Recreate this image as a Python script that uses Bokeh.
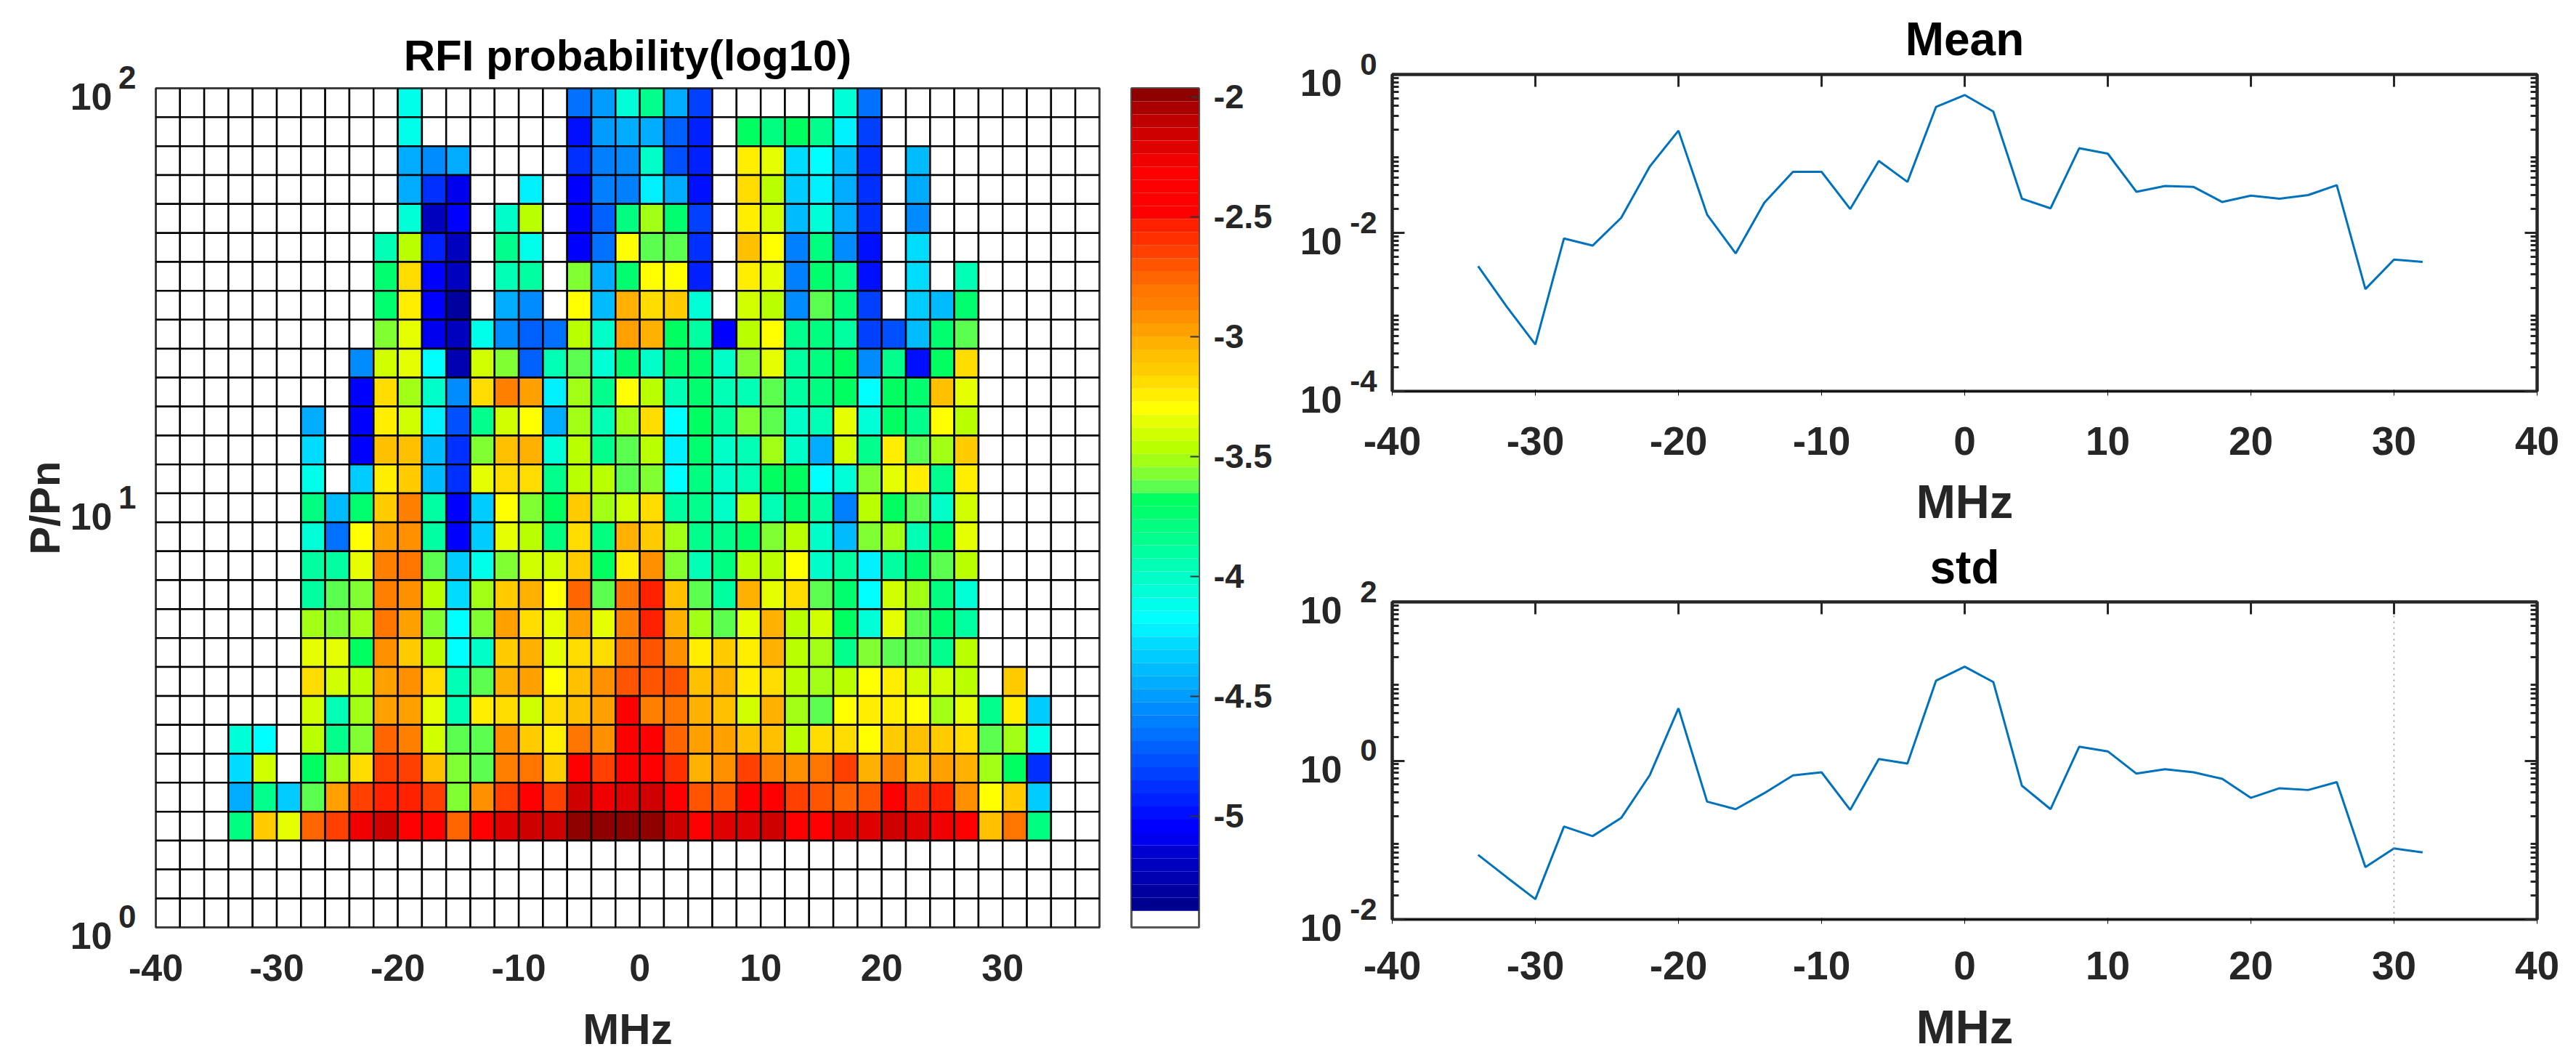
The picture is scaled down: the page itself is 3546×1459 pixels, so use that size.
import numpy as np
from bokeh.embed import file_html
from bokeh.layouts import column, row
from bokeh.models import (ColumnDataSource, CustomJSTickFormatter, FixedTicker,
                          LinearAxis, LinearColorMapper, LogAxis)
from bokeh.plotting import figure
from bokeh.resources import INLINE

_ = None

# log10 probability per cell, top row first, columns from -34 MHz to 34 MHz
z_rows = [
    [_,_,_,_,_,_,_,-4.13,_,_,_,_,_,_,-4.66,-4.50,-4.05, -3.87,-4.44,-4.82,_,_,_,_,_,-4.06,-4.66,_,_,_,_,_,_,_],
    [_,_,_,_,_,_,_,-4.13,_,_,_,_,_,_,-4.99,-4.50,-4.44, -4.44,-4.71,-4.93,_,-3.70,-3.77,-3.68,-3.84,-4.22,-4.82,_,_,_,_,_,_,_],
    [_,_,_,_,_,_,_,-4.47,-4.57,-4.42,_,_,_,_,-4.88,-4.61,-4.53, -4.00,-4.77,-4.95,_,-3.24,-3.35,-4.28,-4.17,-4.39,-4.88,_,-4.39,_,_,_,_,_],
    [_,_,_,_,_,_,_,-4.42,-4.88,-5.07,_,_,-4.25,_,-5.05,-4.61,-4.63, -4.22,-4.44,-4.99,_,-3.19,-3.46,-4.33,-4.22,-4.44,-4.88,_,-4.44,_,_,_,_,_],
    [_,_,_,_,_,_,_,-4.08,-5.18,-5.05,_,-4.00,-3.46,_,-5.05,-4.71,-3.79, -3.51,-3.73,-4.82,_,-3.24,-3.40,-4.39,-4.06,-4.44,-4.88,_,-4.55,_,_,_,_,_],
    [_,_,_,_,_,_,-3.95,-3.46,-4.95,-5.18,_,-3.84,-4.13,_,-5.04,-4.66,-3.30, -3.62,-3.62,-4.88,_,-3.08,-3.30,-4.61,-3.79,-4.55,-4.99,_,-4.28,_,_,_,_,_],
    [_,_,_,_,_,_,-3.73,-3.19,-5.05,-5.20,_,-3.95,-3.92,_,-3.57,-4.44,-3.73, -3.30,-3.30,-4.93,_,-3.24,-3.35,-4.61,-3.73,-3.87,-4.99,_,-4.28,_,-3.95,_,_,_],
    [_,_,_,_,_,_,-3.73,-3.24,-5.04,-5.30,_,-4.44,-4.55,_,-3.30,-4.39,-3.03, -3.19,-3.13,-4.08,_,-3.40,-3.46,-4.55,-3.62,-3.79,-4.82,_,-4.33,-4.39,-3.73,_,_,_],
    [_,_,_,_,_,_,-3.57,-3.35,-5.07,-5.18,-4.11,-4.55,-4.71,-4.66,-3.46,-4.00,-2.97, -3.03,-3.68,-3.88,-5.04,-3.46,-3.30,-3.87,-3.79,-3.90,-4.82,-4.77,-4.39,-3.73,-3.62,_,_,_],
    [_,_,_,_,_,-4.55,-3.40,-3.35,-4.17,-5.28,-3.40,-3.57,-4.71,-3.97,-3.62,-4.06,-3.73, -4.03,-3.76,-3.73,-4.00,-3.57,-3.35,-3.90,-3.79,-3.68,-4.53,-3.87,-4.99,-3.68,-3.21,_,_,_],
    [_,_,_,_,_,-5.04,-3.17,-3.51,-4.00,-4.55,-3.19,-2.87,-2.95,-4.22,-3.51,-3.84,-3.30, -3.46,-3.95,-3.76,-3.94,-3.95,-3.62,-3.92,-3.79,-3.68,-4.17,-3.68,-3.73,-3.08,-3.35,_,_,_],
    [_,_,_,-4.42,_,-5.04,-3.24,-3.40,-4.22,-4.77,-3.85,-3.40,-3.30,-4.44,-3.51,-3.95,-3.49, -3.21,-4.17,-3.68,-3.88,-3.57,-3.62,-4.03,-3.95,-3.35,-4.06,-3.68,-3.84,-3.30,-3.46,_,_,_],
    [_,_,_,-4.26,_,-5.04,-3.08,-3.08,-4.39,-4.88,-3.57,-3.08,-3.03,-4.06,-3.46,-3.87,-3.62, -3.46,-4.22,-3.73,-4.03,-3.95,-3.51,-4.00,-4.44,-3.40,-3.84,-3.24,-3.62,-3.51,-3.13,_,_,_],
    [_,_,_,-4.11,_,-4.33,-3.22,-3.13,-4.39,-4.88,-3.35,-3.17,-3.17,-3.87,-3.46,-3.44,-3.62, -3.57,-4.17,-3.79,-4.00,-3.95,-3.68,-3.68,-4.17,-4.06,-3.57,-3.35,-3.24,-3.84,-3.22,_,_,_],
    [_,_,_,-3.79,-4.39,-3.73,-3.13,-2.87,-3.90,-5.06,-4.33,-3.30,-3.57,-3.68,-3.13,-3.51,-3.40, -3.21,-3.92,-3.84,-4.03,-3.46,-3.95,-3.73,-3.92,-4.61,-3.46,-3.68,-3.62,-4.00,-3.40,_,_,_],
    [_,_,_,-4.08,-4.66,-3.30,-2.97,-2.92,-3.88,-5.06,-4.33,-3.35,-3.46,-3.79,-3.19,-3.79,-3.03, -3.13,-3.51,-3.84,-3.87,-3.73,-3.57,-3.46,-4.03,-4.39,-3.57,-3.51,-3.95,-3.68,-3.35,_,_,_],
    [_,_,_,-3.90,-3.92,-3.35,-2.87,-2.80,-3.62,-4.33,-4.11,-3.57,-3.42,-3.40,-3.13,-3.68,-3.22, -2.92,-3.57,-3.95,-3.79,-3.46,-3.48,-3.30,-4.00,-3.88,-4.25,-3.90,-3.76,-3.62,-3.48,_,_,_],
    [_,_,_,-3.90,-3.62,-3.57,-2.87,-2.90,-3.46,-4.28,-3.51,-3.11,-3.03,-3.30,-2.76,-3.62,-2.81, -2.52,-3.06,-3.62,-3.90,-3.05,-3.35,-3.21,-3.62,-3.73,-4.17,-3.40,-3.51,-3.79,-4.06,_,_,_],
    [_,_,_,-3.51,-3.57,-3.51,-2.79,-2.97,-3.57,-4.17,-3.57,-2.95,-3.19,-3.35,-2.97,-3.35,-2.87, -2.52,-3.03,-3.51,-3.62,-3.35,-3.01,-3.48,-3.42,-3.68,-4.06,-3.35,-3.62,-3.73,-3.90,_,_,_],
    [_,_,_,-3.35,-3.35,-3.68,-2.92,-3.13,-3.46,-4.17,-4.03,-3.11,-3.01,-3.35,-3.17,-3.19,-2.81, -2.68,-2.92,-3.24,-3.13,-3.24,-3.05,-3.46,-3.51,-3.87,-3.57,-3.62,-3.62,-3.84,-3.46,_,_,_],
    [_,_,_,-3.19,-3.40,-3.46,-2.97,-2.92,-3.19,-3.94,-3.62,-3.01,-2.95,-3.30,-3.08,-2.92,-2.68, -2.68,-2.68,-3.08,-3.03,-3.24,-3.19,-3.46,-3.51,-3.46,-3.30,-3.24,-3.40,-3.40,-3.46,_,-3.13,_],
    [_,_,_,-3.40,-3.95,-3.51,-2.97,-2.97,-3.35,-3.97,-3.24,-3.19,-3.40,-3.19,-3.08,-2.97,-2.35, -2.87,-2.79,-3.03,-3.06,-3.40,-3.05,-3.51,-3.62,-3.30,-3.22,-3.24,-3.30,-3.51,-3.35,-3.84,-3.22,-4.33],
    [-4.06,-4.17,_,-3.44,-3.87,-3.57,-2.76,-2.87,-3.40,-3.62,-3.62,-2.92,-3.13,-3.24,-2.81,-2.92,-2.35, -2.40,-2.74,-2.97,-2.97,-3.08,-3.06,-3.48,-3.17,-3.17,-3.30,-3.13,-3.06,-3.13,-3.21,-3.62,-3.51,-4.11],
    [-4.28,-3.40,_,-3.68,-3.51,-3.19,-2.65,-2.66,-3.08,-3.57,-3.62,-2.87,-2.81,-3.13,-2.35,-2.62,-2.35, -2.40,-2.60,-3.01,-2.92,-2.62,-2.87,-2.92,-2.81,-2.65,-3.01,-2.87,-3.08,-2.95,-3.01,-3.51,-3.68,-4.88],
    [-4.44,-3.87,-4.33,-3.62,-2.97,-2.62,-2.52,-2.52,-2.62,-3.57,-2.92,-2.62,-2.40,-2.62,-2.16,-2.27,-2.21, -2.16,-2.35,-2.68,-2.68,-2.40,-2.40,-2.62,-2.68,-2.74,-2.68,-2.40,-2.57,-2.52,-2.92,-3.30,-3.13,-4.33],
    [-3.79,-3.13,-3.35,-2.74,-2.62,-2.27,-2.16,-2.35,-2.32,-2.74,-2.32,-2.21,-2.16,-2.16,-1.99,-1.99,-1.99, -1.99,-2.16,-2.35,-2.21,-2.21,-2.16,-2.32,-2.32,-2.21,-2.21,-2.16,-2.21,-2.27,-2.32,-3.08,-2.79,-3.79],
]

freq = [-34, -32, -30, -28, -26, -24, -22, -20, -18, -16, -14, -12, -10, -8, -6, -4, -2,
        0, 2, 4, 6, 8, 10, 12, 14, 16, 18, 20, 22, 24, 26, 28, 30, 32]
mean_values = [0.0038, 0.00117, 0.00039, 0.0085, 0.0069, 0.0155, 0.069, 0.195, 0.017, 0.0055, 0.024,
               0.059, 0.059, 0.020, 0.081, 0.044, 0.39, 0.55, 0.34, 0.027, 0.0204, 0.117, 0.10, 0.033,
               0.039, 0.038, 0.0245, 0.0295, 0.027, 0.030, 0.040, 0.00195, 0.0046, 0.0043]
std_values = [0.065, 0.034, 0.018, 0.148, 0.112, 0.19, 0.66, 4.57, 0.305, 0.245, 0.39,
              0.653, 0.714, 0.24, 1.05, 0.92, 10.2, 15.3, 9.8, 0.483, 0.245, 1.5, 1.31, 0.687,
              0.78, 0.714, 0.59, 0.34, 0.45, 0.427, 0.537, 0.0457, 0.0785, 0.0698]

heat_x_ticks = [-40, -30, -20, -10, 0, 10, 20, 30]
line_x_ticks = [-40, -30, -20, -10, 0, 10, 20, 30, 40]
colorbar_ticks = [-2, -2.5, -3, -3.5, -4, -4.5, -5]

# colour bands of the bar, bottom to top
palette = ["#00008f", "#00009f", "#0000af", "#0000bf", "#0000cf", "#0000ef", "#0000ff", "#0010ff", "#0020ff",
           "#0030ff", "#0040ff", "#0050ff", "#0060ff", "#0070ff", "#0080ff", "#008cff", "#009cff", "#00acff",
           "#00bcff", "#00ccff", "#00dcff", "#00f0ff", "#00ffff", "#00ffeb", "#00ffd7", "#00ffc8", "#00ffb4",
           "#00ffa0", "#00ff8c", "#00ff80", "#00ff6e", "#00ff60", "#5aff50", "#80ff32", "#a0ff14", "#b9ff00",
           "#d0ff00", "#e6ff00", "#ffff00", "#ffee00", "#ffdc00", "#ffcc00", "#ffc000", "#ffb000", "#ffa000",
           "#ff9000", "#ff8000", "#ff7500", "#ff6500", "#ff5500", "#ff4000", "#ff3000", "#ff2000", "#ff0000",
           "#ff0000", "#ff0000", "#ff0000", "#f00000", "#df0000", "#cf0000", "#bf0000", "#a80000", "#8f0000"]
color_low, color_high = -5.396, -1.965
bar_bottom = -5.465

TEXT = "#262626"
FONT = "Liberation Sans"
mapper = LinearColorMapper(palette=palette, low=color_low, high=color_high, nan_color="white", low_color="white")
empty_labels = CustomJSTickFormatter(code="return ''")
# plain hyphen as in the original, not the long minus
plain_labels = CustomJSTickFormatter(code="return String(tick)")


def decade_axes(p, decades, ticker, exp_standoff, ten_standoff, exp_size, ten_size):
    # exponents on the inner axis, the 10 on a second axis just outside it.
    # axis labels are always centred on the tick, so a blank second line pushes them up or down
    exp_axis = p.yaxis[0]
    exp_axis.ticker = ticker
    exp_axis.major_label_overrides = {v: e + "\n" for v, e in decades}
    exp_axis.major_label_standoff = exp_standoff
    exp_axis.major_label_text_font = FONT
    exp_axis.major_label_text_font_style = "bold"
    exp_axis.major_label_text_font_size = exp_size
    exp_axis.major_label_text_color = TEXT
    exp_axis.major_label_text_line_height = 0.6

    ten_axis = LogAxis(ticker=ticker, major_label_overrides={v: "\n10" for v, e in decades})
    ten_axis.major_label_standoff = ten_standoff
    ten_axis.major_label_text_font = FONT
    ten_axis.major_label_text_font_style = "bold"
    ten_axis.major_label_text_font_size = ten_size
    ten_axis.major_label_text_color = TEXT
    ten_axis.major_label_text_line_height = 0.4
    ten_axis.major_tick_line_color = None
    ten_axis.minor_tick_line_color = None
    ten_axis.axis_line_color = None
    p.add_layout(ten_axis, "left")
    return ten_axis


# heat map, 39 columns and 29 log spaced rows
x_edges = np.arange(-40, 39, 2)
y_edges = 10 ** (np.arange(30) * 2 / 29)
left, right, top, bottom, value = [], [], [], [], []
for j in range(29):
    vals = z_rows[j] if j < len(z_rows) else [None] * 34
    for i in range(39):
        v = vals[i - 3] if 3 <= i <= 36 else None
        left.append(x_edges[i])
        right.append(x_edges[i + 1])
        top.append(y_edges[29 - j])
        bottom.append(y_edges[28 - j])
        value.append(float("nan") if v is None else v)
source = ColumnDataSource(dict(left=left, right=right, top=top, bottom=bottom, value=value))

heat = figure(width=1540, height=1459, x_range=(-40, 38), y_range=(1, 100), y_axis_type="log",
              output_backend="svg", toolbar_location=None, min_border_left=214, min_border_right=27,
              min_border_top=121, min_border_bottom=183, title="RFI probability(log10)")
heat.quad(left="left", right="right", top="top", bottom="bottom", source=source,
          fill_color={"field": "value", "transform": mapper}, line_color="black", line_width=2.5)
heat.grid.visible = False
heat.outline_line_color = "#444444"
heat.outline_line_width = 3
heat.title.align = "center"
heat.title.text_font = FONT
heat.title.text_font_size = "60px"
heat.title.text_color = "black"
heat.title.standoff = 23
heat.xaxis.ticker = FixedTicker(ticks=heat_x_ticks)
heat.xaxis.formatter = plain_labels
heat.xaxis.axis_label = "MHz"
heat.xaxis.axis_label_text_font = FONT
heat.xaxis.axis_label_text_font_size = "60px"
heat.xaxis.axis_label_text_font_style = "bold"
heat.xaxis.axis_label_text_color = TEXT
heat.xaxis.axis_label_standoff = 30
heat.xaxis.major_label_text_font = FONT
heat.xaxis.major_label_text_font_size = "52px"
heat.xaxis.major_label_text_font_style = "bold"
heat.xaxis.major_label_text_color = TEXT
heat.xaxis.major_label_text_line_height = 1.0
heat.xaxis.major_label_standoff = 31
heat.xaxis.major_tick_line_color = None
heat.xaxis.minor_tick_line_color = None
heat.xaxis.axis_line_color = None
heat_decades = [(1, "0"), (10, "1"), (100, "2")]
heat_ten = decade_axes(heat, heat_decades, FixedTicker(ticks=[1, 10, 100]), 21, 0, "44px", "52px")
heat.yaxis[0].major_tick_line_color = None
heat.yaxis[0].minor_tick_line_color = None
heat.yaxis[0].axis_line_color = None
heat_ten.axis_label = "P/Pn"
heat_ten.axis_label_text_font = FONT
heat_ten.axis_label_text_font_size = "58px"
heat_ten.axis_label_text_font_style = "bold"
heat_ten.axis_label_text_color = TEXT
heat_ten.axis_label_standoff = 0

# colour bar as its own narrow figure
band = (color_high - color_low) / len(palette)
bar_edges = [color_low + band * k for k in range(len(palette) + 1)]
bar = figure(width=220, height=1459, x_range=(0, 1), y_range=(bar_bottom, color_high), y_axis_location="right",
             output_backend="svg", toolbar_location=None, min_border_left=17, min_border_right=110,
             min_border_top=121, min_border_bottom=183)
bar.quad(left=0, right=1, bottom=bar_edges[:-1], top=bar_edges[1:], fill_color=palette, line_color=None)
bar.grid.visible = False
bar.xaxis.visible = False
bar.outline_line_color = "#555555"
bar.outline_line_width = 3
bar.yaxis.ticker = FixedTicker(ticks=colorbar_ticks)
bar.yaxis.formatter = plain_labels
bar.yaxis.major_tick_in = 12
bar.yaxis.major_tick_out = 0
bar.yaxis.major_tick_line_color = "#333333"
bar.yaxis.major_tick_line_width = 2
bar.yaxis.minor_tick_line_color = None
bar.yaxis.axis_line_color = None
bar.yaxis.major_label_standoff = 20
bar.yaxis.major_label_text_font = FONT
bar.yaxis.major_label_text_font_size = "47px"
bar.yaxis.major_label_text_font_style = "bold"
bar.yaxis.major_label_text_color = TEXT


def line_panel(name, values, y_low, y_high, decades, height, border_top, border_bottom, title_gap, tick_gap, label_gap):
    p = figure(width=1778, height=height, x_range=(-40, 40), y_range=(y_low, y_high), y_axis_type="log",
               output_backend="svg", toolbar_location=None, min_border_left=156, min_border_right=46,
               min_border_top=border_top, min_border_bottom=border_bottom, title=name)
    p.line(freq, values, line_color="#0072BD", line_width=3)
    p.grid.visible = False
    p.outline_line_color = TEXT
    p.outline_line_width = 4
    p.title.align = "center"
    p.title.text_font = FONT
    p.title.text_font_size = "64px"
    p.title.text_color = "black"
    p.title.standoff = title_gap

    x_ticker = FixedTicker(ticks=line_x_ticks)
    major = [v for v, _e in decades]
    minor = [m * 10.0 ** k for k in range(int(np.log10(y_low)), int(np.log10(y_high))) for m in range(2, 10)]
    y_ticker = FixedTicker(ticks=major, minor_ticks=minor)

    p.xaxis.ticker = x_ticker
    p.xaxis.formatter = plain_labels
    p.xaxis.axis_label = "MHz"
    p.xaxis.axis_label_text_font = FONT
    p.xaxis.axis_label_text_font_size = "65px"
    p.xaxis.axis_label_text_font_style = "bold"
    p.xaxis.axis_label_text_color = TEXT
    p.xaxis.axis_label_text_line_height = 1.0
    p.xaxis.axis_label_standoff = label_gap
    p.xaxis.major_label_text_font = FONT
    p.xaxis.major_label_text_font_size = "55px"
    p.xaxis.major_label_text_font_style = "bold"
    p.xaxis.major_label_text_color = TEXT
    p.xaxis.major_label_text_line_height = 1.0
    p.xaxis.major_label_standoff = tick_gap
    decade_axes(p, decades, y_ticker, 21, 2, "42px", "52px")

    # ticks point inward on all four sides
    top_axis = LinearAxis(ticker=x_ticker, formatter=empty_labels)
    right_axis = LogAxis(ticker=y_ticker, formatter=empty_labels)
    p.add_layout(top_axis, "above")
    p.add_layout(right_axis, "right")
    for ax in [p.xaxis[0], top_axis]:
        ax.major_tick_in = 17
        ax.major_tick_out = 0
        ax.minor_tick_line_color = None
        ax.major_tick_line_color = TEXT
        ax.major_tick_line_width = 3
        ax.axis_line_color = TEXT
        ax.axis_line_width = 4
    for ax in [p.yaxis[0], right_axis]:
        ax.major_tick_in = 17
        ax.major_tick_out = 0
        ax.minor_tick_in = 9
        ax.minor_tick_out = 0
        ax.major_tick_line_color = TEXT
        ax.major_tick_line_width = 3
        ax.minor_tick_line_color = TEXT
        ax.minor_tick_line_width = 3
        ax.axis_line_color = TEXT
        ax.axis_line_width = 4
    return p


mean_panel = line_panel("Mean", mean_values, 1e-4, 1, [(1e-4, "-4"), (1e-2, "-2"), (1, "0")],
                        730, 102, 192, 25, 43, 25)
std_panel = line_panel("std", std_values, 1e-2, 100, [(1e-2, "-2"), (1, "0"), (100, "2")],
                       729, 96, 194, 24, 38, 26)
std_panel.line([30, 30], [1e-2, 100], line_color="#888888", line_width=1.5, line_dash=[2, 6])

page = row(heat, bar, column(mean_panel, std_panel))
open("out.html", "w").write(file_html(page, INLINE))
